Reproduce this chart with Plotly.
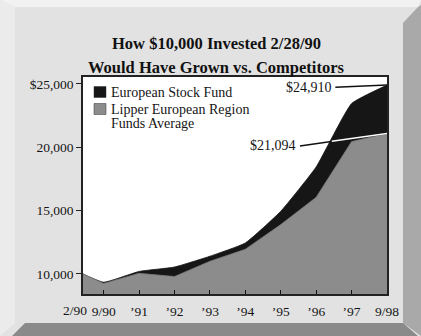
import plotly.graph_objects as go

# ---- data (months since 2/28/90) ----
months = [0, 7, 19, 31, 43, 55, 67, 79, 91, 103]
fund = [10000, 9350, 10200, 10550, 11400, 12450, 14950, 18450, 23450, 24910]
lipper = [10000, 9250, 10050, 9800, 11000, 11950, 13900, 16050, 20450, 21094]
tick_vals = [7, 19, 31, 43, 55, 67, 79, 91, 103]
tick_text = ["9/90", "\u201991", "\u201992", "\u201993", "\u201994", "\u201995", "\u201996", "\u201997", "9/98"]
first_label = "2/90"
y_ticks = [10000, 15000, 20000, 25000]
y_text = ["10,000", "15,000", "20,000", "$25,000"]
series_names = ["European Stock Fund", "Lipper European Region<br>Funds Average"]
series_colors = ["#161616", "#8c8c8c"]
end_labels = ["$24,910", "$21,094"]
title_lines = ["How $10,000 Invested 2/28/90", "Would Have Grown vs. Competitors"]

W, H = 421, 336
L, R, T, B = 83, 34, 77, 42
PW, PH = W - L - R, H - T - B
FONT = "Liberation Serif"
TXT = "#151515"

def px(x):
    return (x - L) / PW

def py(y):
    return (H - B - y) / PH

fig = go.Figure()
fig.add_trace(go.Scatter(x=months, y=fund, mode="lines", fill="tozeroy",
                         fillcolor=series_colors[0],
                         line=dict(color=series_colors[0], width=0.8, shape="spline", smoothing=0.4),
                         showlegend=False, hoverinfo="skip"))
fig.add_trace(go.Scatter(x=months, y=lipper, mode="lines", fill="tozeroy",
                         fillcolor=series_colors[1], line=dict(color="#7a7a7a", width=0.8),
                         showlegend=False, hoverinfo="skip"))

shapes = []
def poly(pts, color):
    path = "M " + " L ".join(f"{px(a):.5f},{py(b):.5f}" for a, b in pts) + " Z"
    shapes.append(dict(type="path", xref="paper", yref="paper", path=path,
                       fillcolor=color, line=dict(width=0), layer="below"))

# frame bevels
poly([(0, 0), (421, 0), (418, 7), (15, 7)], "#f2f2f2")
poly([(0, 0), (15, 7), (15, 323), (0, 336)], "#ebebeb")
poly([(403, 23), (418, 7), (421, 5), (421, 336), (403, 323)], "#a9a9a9")
poly([(25, 323), (403, 323), (418, 336), (12, 336)], "#8a8a8a")

# legend swatches
leg_y = [92, 109]
for i in range(2):
    shapes.append(dict(type="rect", xref="paper", yref="paper",
                       x0=px(94), x1=px(106), y0=py(leg_y[i] - 5.5), y1=py(leg_y[i] + 5.5),
                       fillcolor=series_colors[i], line=dict(color="#333", width=0.5)))

# value callout lines
shapes.append(dict(type="line", xref="x", yref="y", x0=85.5, y0=24740, x1=103, y1=24910,
                   line=dict(color="#111", width=1.5)))
shapes.append(dict(type="line", xref="x", yref="y", x0=73.5, y0=20110, x1=103, y1=21094,
                   line=dict(color="#111", width=1.5)))
shapes.append(dict(type="line", xref="x", yref="y", x0=84.3, y0=20480, x1=103, y1=21094,
                   line=dict(color="#ffffff", width=1.5)))

annotations = []
title_y = [43, 67]
for k, t in enumerate(title_lines):
    annotations.append(dict(xref="paper", yref="paper", x=px(216), y=py(title_y[k]),
                            text="<b>" + t + "</b>", showarrow=False, xanchor="center", yanchor="middle",
                            font=dict(family=FONT, size=16.5, color="#111")))
line_gap = 14.5
for i in range(2):
    parts = series_names[i].split("<br>")
    for j, part in enumerate(parts):
        annotations.append(dict(xref="paper", yref="paper", x=px(109), y=py(leg_y[i] + j * line_gap),
                                text=part, showarrow=False, xanchor="left", yanchor="middle",
                                font=dict(family=FONT, size=14, color=TXT)))
annotations.append(dict(xref="x", yref="y", x=85, y=24740, text=end_labels[0], showarrow=False,
                        xanchor="right", yanchor="middle", font=dict(family=FONT, size=14, color=TXT)))
annotations.append(dict(xref="x", yref="y", x=73, y=20110, text=end_labels[1], showarrow=False,
                        xanchor="right", yanchor="middle", font=dict(family=FONT, size=14, color=TXT)))
annotations.append(dict(xref="x", yref="paper", x=0, y=0, text=first_label, showarrow=False,
                        xanchor="right", yanchor="top", xshift=6, yshift=-7,
                        font=dict(family=FONT, size=13.5, color=TXT)))

fig.update_layout(
    width=W, height=H,
    margin=dict(l=L, r=R, t=T, b=B),
    paper_bgcolor="#e2e2e2", plot_bgcolor="#ffffff",
    font=dict(family=FONT, size=13.5, color=TXT),
    shapes=shapes, annotations=annotations,
    showlegend=False,
)
fig.update_xaxes(range=[0, 103], tickvals=tick_vals, ticktext=tick_text, ticks="inside",
                 ticklen=4, tickcolor="#111", showgrid=False, zeroline=False,
                 showline=True, mirror=True, linecolor="#222", linewidth=1.5,
                 ticklabelstandoff=4, tickfont=dict(family=FONT, size=13.5, color=TXT))
fig.update_yaxes(range=[8420, 25550], tickvals=y_ticks, ticktext=y_text, ticks="outside",
                 ticklen=5, tickcolor="#222", showgrid=False, zeroline=False,
                 showline=True, mirror=True, linecolor="#222", linewidth=1.5,
                 tickfont=dict(family=FONT, size=13.5, color=TXT))
fig.write_html("out.html")
